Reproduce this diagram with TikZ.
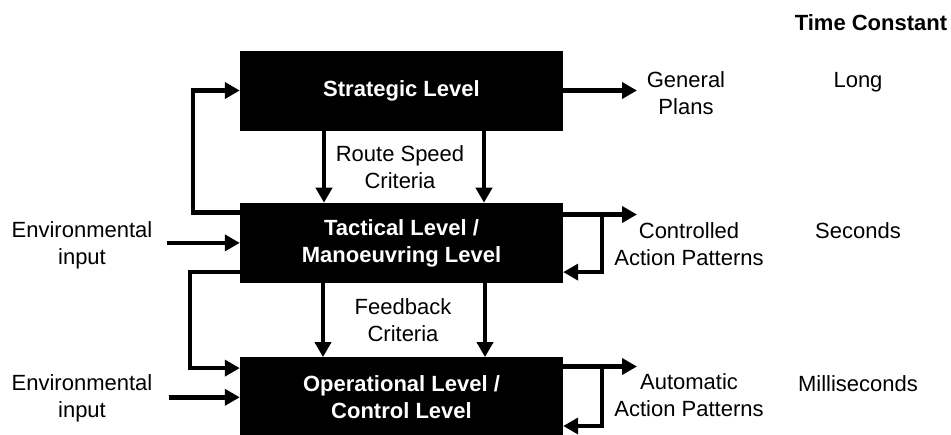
\documentclass[tikz,border=0pt]{standalone}
\usepackage{fontspec}
\setmainfont{Liberation Sans}
\usetikzlibrary{arrows.meta, positioning, calc}

\begin{document}
\begin{tikzpicture}[
    x=1pt, y=-1pt,
    level/.style={rectangle, fill=black, text=white, minimum width=323pt, minimum height=80pt, inner sep=0pt, align=center, font=\fontsize{22}{27}\selectfont\bfseries},
    lbl/.style={inner sep=0pt, align=center, font=\fontsize{22}{27}\selectfont},
    arrow/.style={-{Triangle[length=15pt,width=16pt]}, line width=4.5pt}
]
\useasboundingbox (0,0) rectangle (951,434);

% Levels (top to bottom)
\node[level] (strat) at (401.5,90.5) {Strategic Level};
\node[level, below=72pt of strat] (tact) {Tactical Level /\\Manoeuvring Level};
\node[level, below=74pt of tact] (oper) {Operational Level /\\Control Level};

% Labels between the levels
\node[lbl] (route) at (400,167) {Route Speed\\Criteria};
\node[lbl] (feedb) at (403,320) {Feedback\\Criteria};

% Inputs on the left
\node[lbl] (envtact) at (82,245) {Environmental\\input};
\node[lbl] (envoper) at (82,398) {Environmental\\input};

% Outputs on the right
\node[lbl] (plans) at (686,93) {General\\Plans};
\node[lbl] (ctrl) at (689,244) {Controlled\\Action Patterns};
\node[lbl] (auto) at (689,395) {Automatic\\Action Patterns};
\coordinate (plansin) at (637,90.5);
\coordinate (ctrlin) at (637,214.5);
\coordinate (autoin) at (637,366.5);

% Time constant column
\node[lbl, anchor=base, font=\fontsize{22}{27}\selectfont\bfseries] (tconst) at (871,30) {Time Constant};
\node[lbl, anchor=base] (long) at (858,87) {Long};
\node[lbl, anchor=base] (sec) at (858,238) {Seconds};
\node[lbl, anchor=base] (msec) at (858,391) {Milliseconds};

% Downward arrows
\draw[arrow] ([xshift=-77.5pt]strat.south) -- ([xshift=-77.5pt]tact.north);
\draw[arrow] ([xshift=82.5pt]strat.south) -- ([xshift=82.5pt]tact.north);
\draw[arrow] ([xshift=-78.5pt]tact.south) -- ([xshift=-78.5pt]oper.north);
\draw[arrow] ([xshift=83.5pt]tact.south) -- ([xshift=83.5pt]oper.north);

% Loops on the left
\draw[arrow] ([yshift=-10pt]tact.north west) -- ++(-47,0) |- (strat.west);
\draw[arrow] ([yshift=11pt]tact.south west) -- ++(-50,0) |- ([yshift=-11pt]oper.north west);

% Environmental input
\draw[arrow] ([xshift=14pt]envtact.east |- tact.west) -- (tact.west);
\draw[arrow] ([xshift=16pt]envoper.east |- oper.west) -- (oper.west);

% Outputs and loops on the right
\draw[arrow] (strat.east) -- (plansin);
\draw[arrow] (tact.east |- ctrlin) -- (ctrlin);
\draw[arrow] (tact.east |- ctrlin) -- ++(39,0) |- ([yshift=11pt]tact.south east);
\draw[arrow] (oper.east |- autoin) -- (autoin);
\draw[arrow] (oper.east |- autoin) -- ++(39,0) |- ([yshift=11.5pt]oper.south east);

\end{tikzpicture}
\end{document}
